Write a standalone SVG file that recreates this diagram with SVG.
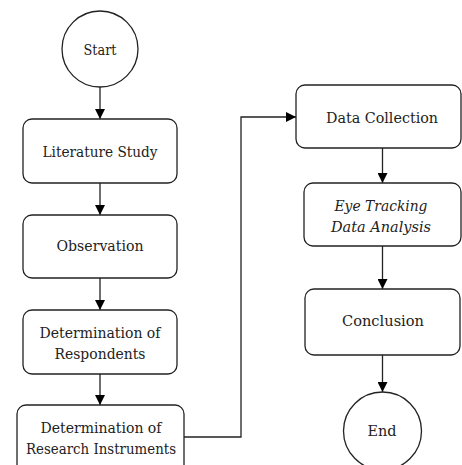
<svg xmlns="http://www.w3.org/2000/svg" width="462" height="465" viewBox="0 0 462 465">
<style>
.n{fill:#fff;stroke:#222;stroke-width:1.3}
.t{font-family:'DejaVu Serif','Liberation Serif',serif;font-size:15.5px;fill:#222;text-anchor:middle;dominant-baseline:central}
.i{font-style:italic}
.c{fill:none;stroke:#222;stroke-width:1.3}
</style>
<defs>
<marker id="ah" viewBox="0 0 10 10" refX="10" refY="5" markerWidth="10" markerHeight="10" markerUnits="userSpaceOnUse" orient="auto">
<path d="M0,0 L10,5 L0,10 Z" fill="#000"/>
</marker>
</defs>
<rect width="462" height="465" fill="#fff"/>
<g id="connectors">
<line class="c" x1="100" y1="87" x2="100" y2="119" marker-end="url(#ah)"/>
<line class="c" x1="100" y1="183" x2="100" y2="215" marker-end="url(#ah)"/>
<line class="c" x1="100" y1="278" x2="100" y2="310" marker-end="url(#ah)"/>
<line class="c" x1="100" y1="374" x2="100" y2="405" marker-end="url(#ah)"/>
<polyline class="c" points="184,437 241,437 241,117 296,117" marker-end="url(#ah)"/>
<line class="c" x1="382.5" y1="148" x2="382.5" y2="183" marker-end="url(#ah)"/>
<line class="c" x1="382.5" y1="246" x2="382.5" y2="289" marker-end="url(#ah)"/>
<line class="c" x1="382.5" y1="355" x2="382.5" y2="392" marker-end="url(#ah)"/>
</g>
<g id="start"><circle class="n" cx="100" cy="49" r="38"/><text class="t" x="100" y="50" textLength="33" lengthAdjust="spacingAndGlyphs">Start</text></g>
<g id="literature"><rect class="n" x="23" y="119" width="154" height="64" rx="9"/><text class="t" x="100" y="152" textLength="115" lengthAdjust="spacingAndGlyphs">Literature Study</text></g>
<g id="observation"><rect class="n" x="23" y="215" width="154" height="63" rx="9"/><text class="t" x="100" y="246" textLength="87" lengthAdjust="spacingAndGlyphs">Observation</text></g>
<g id="respondents"><rect class="n" x="23" y="310" width="154" height="64" rx="9"/><text class="t" x="100" y="333" textLength="121" lengthAdjust="spacingAndGlyphs">Determination of</text><text class="t" x="100" y="354" textLength="91" lengthAdjust="spacingAndGlyphs">Respondents</text></g>
<g id="instruments"><rect class="n" x="17" y="405" width="167" height="70" rx="9"/><text class="t" x="101" y="428" textLength="121" lengthAdjust="spacingAndGlyphs">Determination of</text><text class="t" x="101" y="449" textLength="150" lengthAdjust="spacingAndGlyphs">Research Instruments</text></g>
<g id="datacollection"><rect class="n" x="296" y="85" width="165" height="63" rx="9"/><text class="t" x="382" y="118" textLength="112" lengthAdjust="spacingAndGlyphs">Data Collection</text></g>
<g id="eyetracking"><rect class="n" x="304" y="183" width="157" height="63" rx="9"/><text class="t i" x="381" y="206" textLength="93" lengthAdjust="spacingAndGlyphs">Eye Tracking</text><text class="t i" x="381" y="227" textLength="100" lengthAdjust="spacingAndGlyphs">Data Analysis</text></g>
<g id="conclusion"><rect class="n" x="305" y="289" width="155" height="66" rx="9"/><text class="t" x="383" y="321" textLength="82" lengthAdjust="spacingAndGlyphs">Conclusion</text></g>
<g id="end"><circle class="n" cx="382.5" cy="431" r="39"/><text class="t" x="382" y="431" textLength="29" lengthAdjust="spacingAndGlyphs">End</text></g>
</svg>
